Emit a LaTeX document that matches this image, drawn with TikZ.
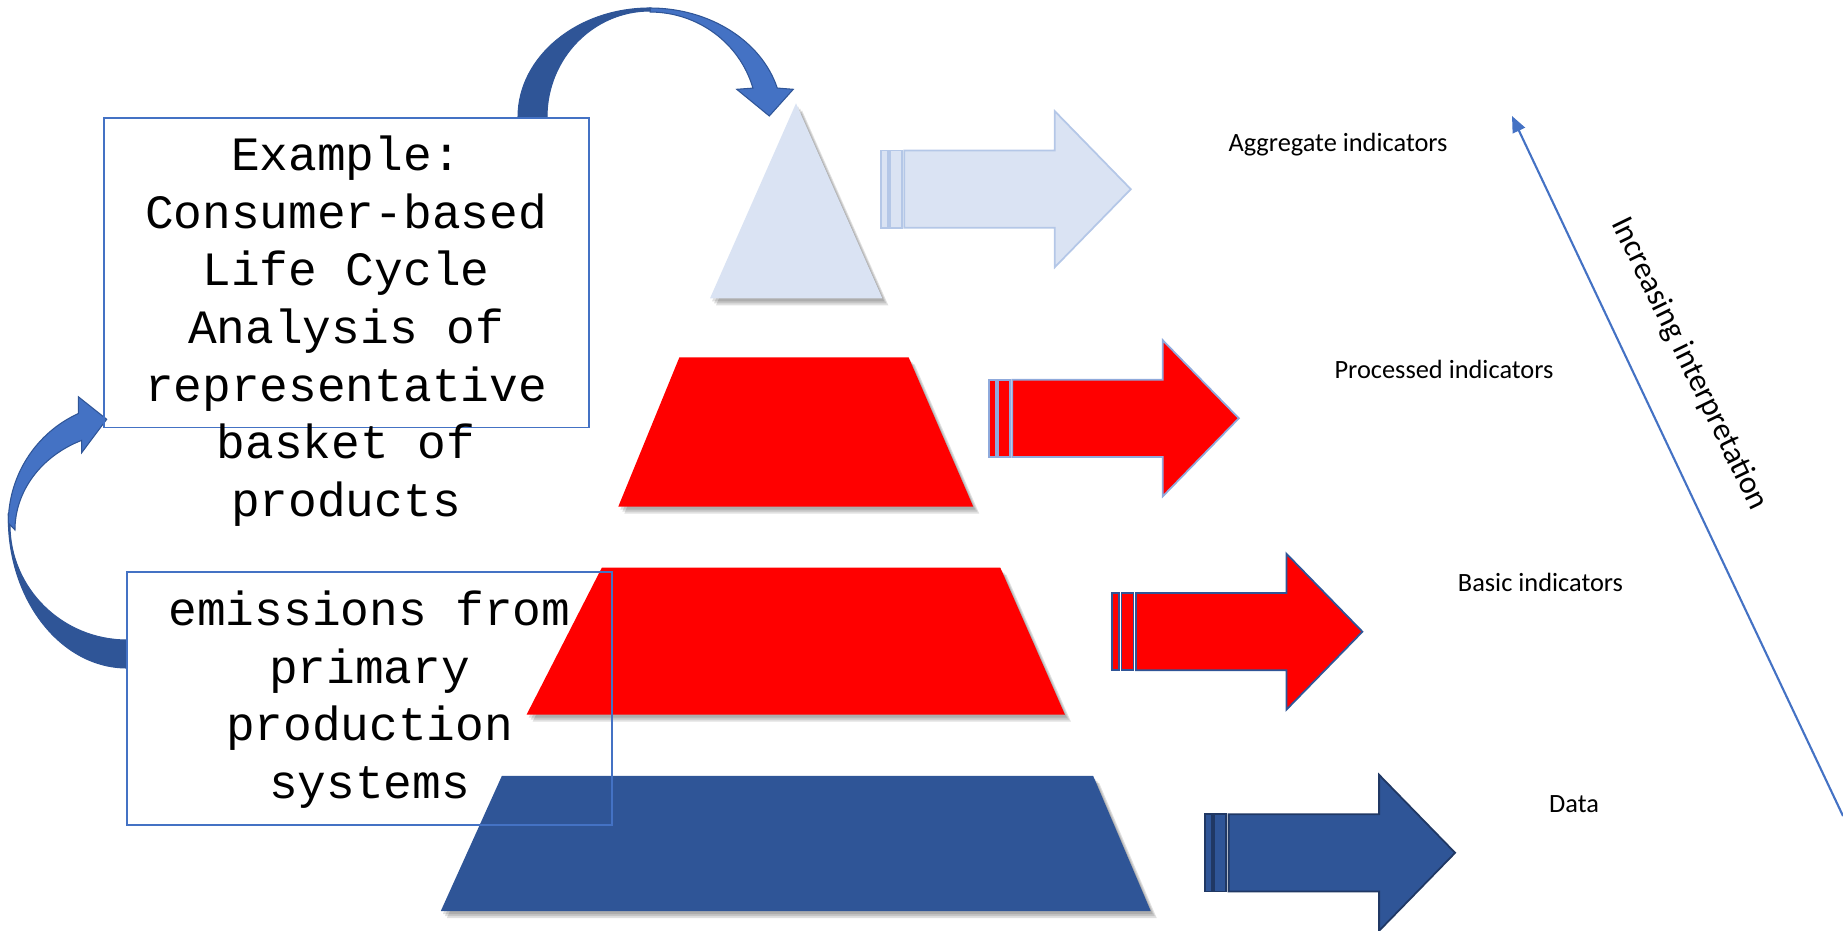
\documentclass[tikz,border=0pt]{standalone}
\usepackage{fontspec}
\newfontfamily\monof{Liberation Mono}
\newfontfamily\calib{Carlito}
\usetikzlibrary{arrows.meta}
\definecolor{lightfill}{HTML}{DAE3F3}
\definecolor{lightedge}{HTML}{B4C7E7}
\definecolor{midedge}{HTML}{8FAADC}
\definecolor{navy}{HTML}{2F5597}
\definecolor{navyedge}{HTML}{203864}
\definecolor{accent}{HTML}{4472C4}
\definecolor{pyred}{HTML}{FF0000}
\tikzset{
  shade1/.style={fill=black,opacity=0.12},
  pyshape/.style={draw=none},
  boxframe/.style={draw=accent,line width=0.45pt,inner sep=0pt,outer sep=0pt},
  monotext/.style={font=\monof\fontsize{13.6}{16.4}\selectfont,align=center,inner sep=0pt},
  lbl/.style={font=\calib\fontsize{7.5}{9}\selectfont,inner sep=0pt},
  curvedark/.style={fill=navy,draw=navy,line width=0.3pt},
  curvelight/.style={fill=accent,draw=navy,line width=0.3pt},
}
\newcommand\pyshadow[1]{%
  \fill[shade1] [shift={(2,3)}] #1;
  \fill[shade1] [shift={(4,5)}] #1;
  \fill[shade1] [shift={(6,7)}] #1;
}
\begin{document}
\begin{tikzpicture}[x=0.01cm,y=-0.01cm]
\useasboundingbox (0,0) rectangle (1843,931);

% pyramid shapes with soft shadows
\pyshadow{(796,103.3) -- (882.3,298.3) -- (710,298.3) -- cycle}
\fill[lightfill] (796,103.3) -- (882.3,298.3) -- (710,298.3) -- cycle;

\pyshadow{(679.4,357.3) -- (908.6,357.3) -- (973.2,506.6) -- (618.3,506.6) -- cycle}
\fill[pyred] (679.4,357.3) -- (908.6,357.3) -- (973.2,506.6) -- (618.3,506.6) -- cycle;

\pyshadow{(601.8,567.7) -- (1000.3,567.7) -- (1064.9,714.6) -- (526.6,714.6) -- cycle}
\fill[pyred] (601.8,567.7) -- (1000.3,567.7) -- (1064.9,714.6) -- (526.6,714.6) -- cycle;

\pyshadow{(501.9,775.8) -- (1093.1,775.8) -- (1150.7,911) -- (440.8,911) -- cycle}
\fill[navy] (501.9,775.8) -- (1093.1,775.8) -- (1150.7,911) -- (440.8,911) -- cycle;

% striped block arrows
\foreach \xo/\yc/\fc/\dc in {904.3/189.2/lightfill/lightedge, 1012.3/418.3/pyred/midedge, 1135.9/631.7/pyred/navy, 1228.6/852.8/navy/navyedge}{
  \filldraw[fill=\fc,draw=\dc,line width=0.5pt] (\xo-23.6,\yc-38.6) rectangle (\xo-16.6,\yc+38.6);
  \filldraw[fill=\fc,draw=\dc,line width=0.5pt] (\xo-14.3,\yc-38.6) rectangle (\xo-2.3,\yc+38.6);
  \filldraw[fill=\fc,draw=\dc,line width=0.5pt] (\xo,\yc-38.6) -- (\xo+150.5,\yc-38.6) -- (\xo+150.5,\yc-78) -- (\xo+226.5,\yc) -- (\xo+150.5,\yc+78) -- (\xo+150.5,\yc+38.6) -- (\xo,\yc+38.6) -- cycle;
}

% top curved arrow
\filldraw[curvelight] (650,8) arc[start angle=270,end angle=344.6,x radius=132,y radius=109]
  -- (793.3,89.3) -- (769.3,116) -- (736.7,89.3) -- (752.9,88.1)
  arc[start angle=344,end angle=270,x radius=107,y radius=105] -- cycle;
\filldraw[curvedark] (518,117) arc[start angle=180,end angle=270,x radius=132,y radius=109]
  -- (650,11) arc[start angle=270,end angle=180,x radius=103,y radius=106] -- cycle;

% left curved arrow
\filldraw[curvedark] (8.3,518) arc[start angle=180,end angle=90,x radius=118.7,y radius=150]
  -- (127,640) arc[start angle=90,end angle=180,x radius=117,y radius=115] -- cycle;
\filldraw[curvelight] (8.3,523) arc[start angle=180,end angle=245.8,x radius=118.7,y radius=120]
  -- (78.3,396.7) -- (106.7,419.3) -- (81.7,452.7) -- (81.6,440.4)
  arc[start angle=246.1,end angle=180,x radius=112,y radius=98] -- cycle;

% boxes
\node[boxframe,minimum width=4.846cm,minimum height=3.096cm] (lcabox) at (346.3,272.7) {};
\node[boxframe,minimum width=4.847cm,minimum height=2.527cm] (emibox) at (369.65,698.65) {};

\node[monotext] (lcatext) at (346,331) {Example:\\Consumer-based\\Life Cycle\\Analysis of\\representative\\basket of\\products};
\node[monotext] (emitext) at (369.5,699.5) {emissions from\\primary\\production\\systems};

% labels
\node[lbl] (agg) at (1338,145) {Aggregate indicators};
\node[lbl] (proc) at (1444,369.3) {Processed indicators};
\node[lbl] (basic) at (1540.5,582.3) {Basic indicators};
\node[lbl] (data) at (1574,804) {Data};

% increasing interpretation
\coordinate (ilow) at (1843,816);
\coordinate (itop) at (1512,116);
\draw[accent,line width=0.6pt,-{Triangle[length=4.6pt,width=3.8pt]}] (ilow) -- (itop);
\node[font=\calib\fontsize{9.1}{11}\selectfont,rotate=-64,inner sep=0pt] (interp) at (1689,364) {Increasing interpretation};
\end{tikzpicture}
\end{document}
